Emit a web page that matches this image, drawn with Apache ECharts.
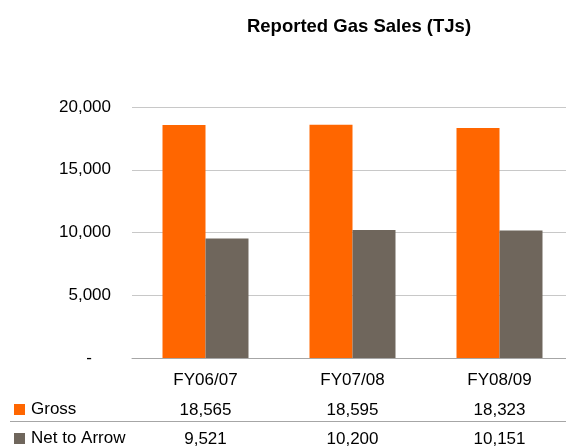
<!DOCTYPE html>
<html>
<head>
<meta charset="utf-8">
<script src="https://cdn.jsdelivr.net/npm/echarts@6/dist/echarts.min.js"></script>
<style>
  html, body { margin: 0; padding: 0; background: #fff; }
  #chart { width: 566px; height: 446px; }
</style>
</head>
<body>
<div id="chart"></div>
<script>
// 年度
var categories = ['FY06/07', 'FY07/08', 'FY08/09'];
// Gross
var grossData = [18565, 18595, 18323];
// Net to Arrow
var netData = [9521, 10200, 10151];
var seriesNames = ['Gross', 'Net to Arrow'];

var FONT = '"Liberation Sans", Arial, sans-serif';
var FS = 17;

function fmt(v) {
    return v.toLocaleString('en-US');
}

// 图例（每行一个）
function legendRow(name, top) {
    return {
        orient: 'vertical',
        left: 14,
        top: top,
        padding: 0,
        itemWidth: 11,
        itemHeight: 11,
        icon: 'rect',
        selectedMode: false,
        textStyle: { fontFamily: FONT, fontSize: FS, color: '#000', padding: [0, 0, 0, 1] },
        data: [name]
    };
}

var myChart = echarts.init(document.getElementById('chart'));
var option = {
    animation: false,
    textStyle: { fontFamily: FONT },
    title: {
        text: 'Reported Gas Sales (TJs)',
        left: 354,
        top: 12,
        textAlign: 'center',
        textStyle: {
            fontFamily: FONT,
            fontSize: 18.5,
            fontWeight: 'bold',
            color: '#000'
        }
    },
    legend: [legendRow(seriesNames[0], 401), legendRow(seriesNames[1], 430)],
    grid: {
        left: 132,
        top: 107,
        width: 441,
        height: 251,
        outerBoundsMode: 'none'
    },
    xAxis: [{
        type: 'category',
        data: categories,
        axisLine: { lineStyle: { color: '#a6a6a6', width: 1 } },
        axisTick: { show: false },
        axisLabel: { color: '#000', fontSize: FS, fontFamily: FONT, margin: 14 }
    }, {
        type: 'category',
        position: 'bottom',
        offset: 30,
        data: grossData.map(fmt),
        axisLine: { show: false },
        axisTick: { show: false },
        axisLabel: { color: '#000', fontSize: FS, fontFamily: FONT, margin: 14 }
    }, {
        type: 'category',
        position: 'bottom',
        offset: 59,
        data: netData.map(fmt),
        axisLine: { show: false },
        axisTick: { show: false },
        axisLabel: { color: '#000', fontSize: FS, fontFamily: FONT, margin: 14 }
    }],
    yAxis: {
        type: 'value',
        min: 0,
        max: 20000,
        interval: 5000,
        axisLine: { show: false },
        axisTick: { show: false },
        splitLine: { lineStyle: { color: '#c8c8c8', width: 1 } },
        axisLabel: {
            color: '#000',
            fontSize: FS,
            fontFamily: FONT,
            margin: 21,
            formatter: function (value) {
                return value === 0 ? '{d|-}' : fmt(value);
            },
            rich: {
                d: { fontSize: FS, fontFamily: FONT, color: '#000', padding: [0, 19, 0, 0] }
            }
        }
    },
    graphic: [{
        type: 'line',
        shape: { x1: 10, y1: 421.5, x2: 566, y2: 421.5 },
        style: { stroke: '#a6a6a6', lineWidth: 1 }
    }],
    series: [{
        name: 'Gross',
        type: 'bar',
        data: grossData,
        barGap: 0,
        barCategoryGap: '41.5%',
        itemStyle: { color: '#FF6600' }
    }, {
        name: 'Net to Arrow',
        type: 'bar',
        data: netData,
        itemStyle: { color: '#6F665C' }
    }]
};
myChart.setOption(option);
</script>
</body>
</html>
